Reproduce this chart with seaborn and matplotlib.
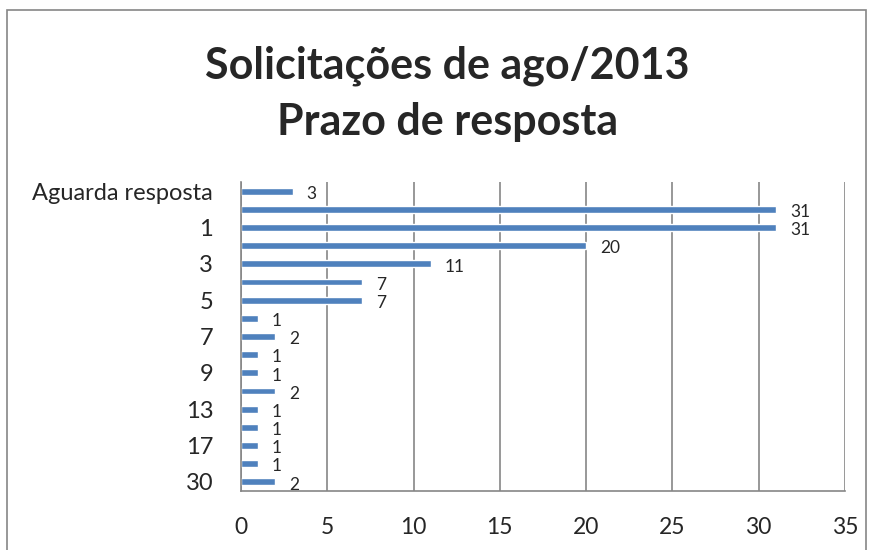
import numpy as np
import pandas as pd
import matplotlib
matplotlib.use('Agg')
import matplotlib.pyplot as plt
import seaborn as sns
from matplotlib.patches import Rectangle

#=====DATA=====
categorias = ["Aguarda resposta", "0", "1", "2", "3", "4", "5", "6", "7",
              "8", "9", "10", "13", "14", "17", "20", "30"]
quantidade = [3, 31, 31, 20, 11, 7, 7, 1, 2, 1, 1, 2, 1, 1, 1, 1, 2]
rotulos_y = ["Aguarda resposta", "", "1", "", "3", "", "5", "", "7",
             "", "9", "", "13", "", "17", "", "30"]
ticks_x = [0, 5, 10, 15, 20, 25, 30, 35]

df = pd.DataFrame({"categoria": categorias, "qtd": quantidade})

#=====PLOT=====
sns.set_style("white")
plt.rcParams['font.family'] = ['Lato', 'DejaVu Sans']
cinza = "#868686"

fig = plt.figure(figsize=(8.74, 5.5), dpi=100)
ax = fig.add_axes([0.2757, 0.1073, 0.6911, 0.5618])

sns.barplot(data=df, x="qtd", y="categoria", orient="h", color="#4F81BD",
            saturation=1, width=0.38, ax=ax)

for i, v in enumerate(quantidade):
    ax.annotate(str(v), (v, i), xytext=(10, -2), textcoords="offset points",
                va="center", ha="left", fontsize=12.5)

ax.set_xlim(0, 35)
ax.set_ylim(len(categorias) - 0.5, -0.5)
ax.set_xticks(ticks_x)
ax.set_xticklabels([str(t) for t in ticks_x], fontsize=16.5)
ax.set_yticks(range(len(categorias)))
ax.set_yticklabels(rotulos_y, fontsize=17)
ax.set_yticks(np.arange(-0.5, len(categorias), 1), minor=True)
ax.tick_params(axis="y", which="major", length=0, pad=20)
ax.tick_params(axis="y", which="minor", length=7, color=cinza, width=1.2, direction="out")
ax.tick_params(axis="x", which="major", length=7, color=cinza, width=1.2, direction="out", pad=12)
ax.set_xlabel("")
ax.set_ylabel("")
ax.xaxis.grid(True, color=cinza, linewidth=1.2)
ax.set_axisbelow(True)
for s in ["top", "right"]:
    ax.spines[s].set_visible(False)
for s in ["left", "bottom"]:
    ax.spines[s].set_color(cinza)
    ax.spines[s].set_linewidth(1.2)

fig.text(0.512, 0.83, "Solicitações de ago/2013\nPrazo de resposta", ha="center",
         va="center", fontsize=31, fontweight="bold", linespacing=1.5)

fig.patches.append(Rectangle((7 / 874, -0.1), 859 / 874, 1.1 - 10 / 550,
                             transform=fig.transFigure, fill=False,
                             edgecolor=cinza, linewidth=1.2))

plt.savefig("out.png", dpi=100)
plt.close()
